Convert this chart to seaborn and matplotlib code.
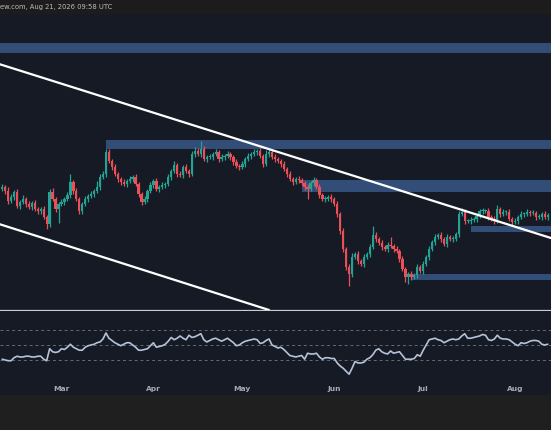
import numpy as np
import pandas as pd
import seaborn as sns
import matplotlib.pyplot as plt
import matplotlib.dates as mdates
from matplotlib.patches import Rectangle

# daily candles, price in chart units (the price scale is cropped off)
start_date = '2026-02-09'
first_open = 130
closes = [
    132, 128, 118, 122, 127,
    113, 117, 120, 115, 112, 116, 110, 108, 110, 102, 95, 127, 120, 110, 115, 117, 120, 124, 137, 128, 120,
    108, 115, 120, 123, 125, 128, 132, 142, 145, 167, 158, 152, 145, 140, 137, 135, 138, 140, 142, 135, 125,
    117, 120, 128, 134, 138, 130, 132, 134, 135, 142, 148, 154, 145, 144, 152, 148, 145, 165, 168, 165, 170,
    160, 162, 162, 165, 167, 160, 162, 163, 165, 162, 157, 153, 152, 155, 160, 163, 165, 167, 168, 163,
    155, 165, 167, 162, 160, 158, 155, 150, 145, 140, 137, 140, 139, 136, 132, 130, 136, 139, 132, 124, 120,
    120, 122, 120, 115, 105, 88, 70, 52, 45, 62, 65, 58, 55, 62, 65, 72, 84, 80, 76, 72, 70,
    74, 73, 70, 68, 60, 50, 42, 45, 42, 44, 52, 48, 55, 62, 70, 77, 82, 84, 80, 75, 82,
    80, 80, 85, 105, 107, 98, 98, 99, 100, 103, 108, 108, 108, 102, 100, 98, 110, 105, 107, 107, 100,
    97, 98, 102, 105, 105, 107, 106, 106, 102, 102, 105, 102, 104,
]
wick_up = [
    3, 2, 4, 3, 2, 3, 2, 4, 2, 3,
    2, 3, 2, 2, 3, 2, 3, 4, 2, 2,
    3, 2, 3, 8, 2, 3, 2, 2, 3, 2,
    3, 2, 6, 3, 3, 3, 3, 2, 3, 2,
    2, 3, 2, 3, 2, 3, 2, 2, 3, 2,
    3, 2, 3, 2, 3, 2, 3, 2, 4, 2,
    3, 2, 3, 2, 3, 4, 3, 8, 3, 2,
    3, 2, 3, 2, 3, 2, 3, 2, 2, 3,
    2, 3, 2, 3, 2, 3, 2, 3, 2, 4,
    3, 2, 3, 2, 2, 3, 2, 3, 2, 2,
    3, 2, 2, 3, 2, 3, 2, 3, 2, 3,
    2, 3, 2, 3, 2, 3, 2, 3, 4, 2,
    3, 2, 3, 2, 3, 9, 3, 2, 3, 2,
    3, 8, 2, 3, 2, 3, 2, 2, 3, 2,
    3, 2, 3, 2, 3, 2, 3, 2, 3, 2,
    3, 2, 3, 2, 3, 4, 3, 2, 3, 2,
    3, 2, 3, 2, 3, 2, 3, 4, 2, 3,
    2, 3, 2, 3, 2, 3, 2, 3, 2, 3,
    2, 3, 2, 3, 2,
]
wick_dn = [
    2, 3, 3, 2, 3, 2, 3, 2, 3, 2,
    3, 2, 3, 3, 2, 5, 3, 2, 3, 14,
    2, 3, 2, 3, 3, 2, 3, 3, 2, 3,
    2, 3, 2, 3, 2, 3, 2, 3, 2, 3,
    3, 2, 3, 2, 3, 2, 3, 3, 2, 3,
    2, 3, 2, 3, 2, 3, 2, 3, 2, 3,
    2, 3, 2, 3, 2, 3, 2, 3, 2, 3,
    2, 3, 2, 3, 2, 3, 2, 3, 3, 2,
    3, 2, 3, 2, 3, 2, 3, 2, 3, 2,
    3, 2, 3, 2, 3, 2, 3, 2, 3, 2,
    3, 2, 3, 10, 2, 3, 2, 3, 2, 3,
    2, 3, 2, 3, 3, 3, 3, 12, 3, 2,
    3, 2, 3, 2, 3, 2, 3, 2, 3, 2,
    3, 2, 3, 2, 3, 2, 5, 7, 3, 2,
    3, 2, 3, 2, 3, 2, 3, 2, 3, 2,
    3, 2, 3, 2, 3, 2, 3, 2, 3, 2,
    3, 2, 3, 2, 3, 2, 3, 2, 3, 2,
    3, 2, 3, 2, 3, 2, 3, 2, 3, 2,
    3, 2, 3, 2, 3,
]
rsi = [
    31, 30, 29, 29, 33, 35, 34, 34, 35, 35,
    34, 34, 35, 35, 31, 29, 45, 41, 40, 41,
    45, 44, 47, 51, 47, 45, 43, 43, 47, 49,
    50, 51, 53, 54, 58, 66, 59, 56, 53, 51,
    49, 51, 53, 53, 50, 47, 43, 43, 44, 45,
    49, 53, 47, 48, 49, 51, 55, 60, 57, 59,
    62, 59, 57, 63, 60, 61, 63, 65, 57, 54,
    56, 58, 59, 57, 55, 57, 59, 56, 53, 49,
    50, 53, 55, 56, 57, 58, 57, 52, 53, 56,
    58, 50, 48, 46, 47, 44, 40, 36, 35, 34,
    35, 36, 31, 39, 38, 38, 39, 34, 31, 33,
    33, 32, 32, 26, 22, 19, 15, 11, 19, 28,
    26, 26, 27, 31, 33, 37, 43, 45, 41, 39,
    38, 42, 39, 40, 41, 36, 31, 31, 31, 32,
    37, 35, 43, 50, 57, 58, 59, 57, 56, 53,
    55, 57, 58, 57, 58, 62, 65, 59, 59, 60,
    61, 62, 64, 63, 57, 56, 58, 63, 59, 58,
    58, 57, 54, 51, 49, 53, 52, 53, 55, 56,
    56, 55, 51, 50, 51,
]

# supply / demand zones drawn on the chart
zone_starts = ['2026-02-01', '2026-03-16', '2026-05-21', '2026-06-27', '2026-07-17']
zone_tops = [276, 179, 139, 45, 93]
zone_bottoms = [266, 170, 127, 39, 87]
zone_end = '2026-09-01'

# descending channel
upper_dates = ['2026-02-09', '2026-08-12']
upper_prices = [254, 82]
lower_dates = ['2026-02-09', '2026-05-10']
lower_prices = [94, 9]

month_ticks = ['2026-03-01', '2026-04-01', '2026-05-01', '2026-06-01', '2026-07-01', '2026-08-01']
month_labels = ['Mar', 'Apr', 'May', 'Jun', 'Jul', 'Aug']
rsi_levels = [70, 50, 30]

bg = '#151a25'
green = '#22a393'
red = '#ec4f57'
zone_color = '#324e78'

sns.set_theme(style='white')
plt.rcParams['font.family'] = ['DejaVu Sans']

df = pd.DataFrame({
    'date': pd.date_range(start_date, periods=len(closes), freq='D'),
    'close': closes,
    'rsi': rsi,
})
df['open'] = [first_open] + closes[:-1]
df['high'] = df[['open', 'close']].max(axis=1) + np.array(wick_up)
df['low'] = df[['open', 'close']].min(axis=1) - np.array(wick_dn)
x = mdates.date2num(df['date'])
colors = np.where(df['close'] >= df['open'], green, red)

H = 431
fig = plt.figure(figsize=(5.51, 4.31), dpi=100, facecolor='#1f1f1f')
ax = fig.add_axes([0, (H - 311) / H, 1, 296 / H])
ax2 = fig.add_axes([0, (H - 381) / H, 1, 69 / H])

fig.add_artist(Rectangle((0, (H - 15) / H), 1, 15 / H, transform=fig.transFigure,
                         color='#1c1c1c', zorder=-1))
fig.add_artist(Rectangle((0, (H - 395) / H), 1, 15 / H, transform=fig.transFigure,
                         color=bg, zorder=-1))
fig.text(0.0, (H - 7.5) / H, 'ew.com, Aug 21, 2026 09:58 UTC', color='#bdbdbd',
         fontsize=4.9, va='center', ha='left')

mar1 = mdates.date2num(pd.Timestamp('2026-03-01'))
xlim = (mar1 - 20.74, mar1 + 165.1)

# main price pane
ax.set_facecolor(bg)
for s, t, b in zip(zone_starts, zone_tops, zone_bottoms):
    xs = mdates.date2num(pd.to_datetime([s, zone_end]))
    ax.fill_between(xs, b, t, color=zone_color, lw=0, zorder=1)

ax.vlines(x, df['low'], df['high'], colors=colors, lw=0.9, zorder=2)
body = (df['close'] - df['open']).abs().clip(lower=0.8)
ax.bar(x, body, bottom=df[['open', 'close']].min(axis=1), width=0.78,
       color=colors, lw=0, zorder=3)

up_x = mdates.date2num(pd.to_datetime(upper_dates))
lo_x = mdates.date2num(pd.to_datetime(lower_dates))
ax.axline((up_x[0], upper_prices[0]), (up_x[1], upper_prices[1]), color='white', lw=1.6, zorder=4)
ax.axline((lo_x[0], lower_prices[0]), (lo_x[1], lower_prices[1]), color='white', lw=1.6, zorder=4)

ax.set_xlim(xlim)
ax.set_ylim(9, 305)
ax.set_xticks([])
ax.set_yticks([])
for side in ['top', 'left', 'right']:
    ax.spines[side].set_visible(False)
ax.spines['bottom'].set_color('#c9ccd2')
ax.spines['bottom'].set_linewidth(0.9)

# RSI pane
ax2.set_facecolor(bg)
for lvl in rsi_levels:
    ax2.axhline(lvl, color='#666a74', lw=0.7, dashes=(3, 3))
sns.lineplot(data=df, x='date', y='rsi', ax=ax2, color='#b5c3d8', lw=1.2)
ax2.set_xlim(xlim)
ax2.set_ylim(3.3, 95.3)
ax2.set_yticks([])
ax2.set_xlabel('')
ax2.set_ylabel('')
ax2.set_xticks(mdates.date2num(pd.to_datetime(month_ticks)))
ax2.set_xticklabels(month_labels)
ax2.tick_params(axis='x', length=0, pad=3.5, labelsize=5.4, labelcolor='#a7aab3')
for lbl in ax2.get_xticklabels():
    lbl.set_fontweight('bold')
for side in ax2.spines:
    ax2.spines[side].set_visible(False)

fig.savefig('out.png', dpi=100, facecolor=fig.get_facecolor())
